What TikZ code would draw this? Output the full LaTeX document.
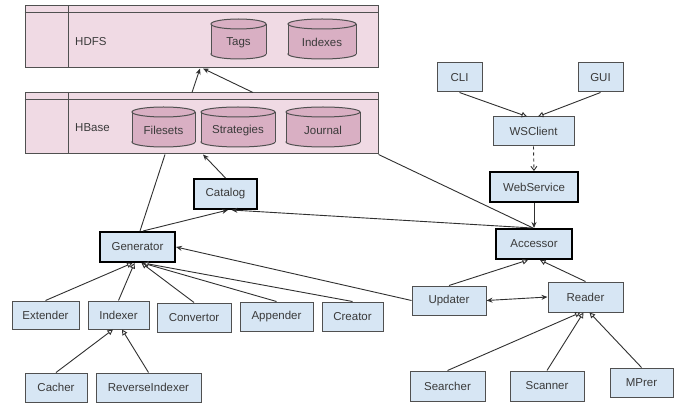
\documentclass[tikz,border=0pt]{standalone}
\usepackage{fontspec}
\setmainfont{Liberation Sans}
\usetikzlibrary{arrows.meta,calc}
\definecolor{boxfill}{HTML}{D7E6F4}
\definecolor{boxline}{HTML}{505050}
\definecolor{pkgfill}{HTML}{F0DAE4}
\definecolor{cylfillc}{HTML}{D9AFC3}
\definecolor{txt}{HTML}{3A3A3A}
\definecolor{edge}{HTML}{303030}
\tikzset{
  box/.style={draw=boxline, fill=boxfill, line width=1pt, inner sep=0pt, text=txt, font=\fontsize{11.5}{13}\selectfont},
  thickbox/.style={box, draw=black, line width=2pt},
  pkg/.style={draw=boxline, fill=pkgfill, line width=1pt, inner sep=0pt},
  cylst/.style={draw=boxline, fill=cylfillc, line width=1pt},
  cylfill/.style={fill=cylfillc},
  cylline/.style={draw=boxline, line width=1pt},
  cyltext/.style={inner sep=0pt, text=txt, font=\fontsize{11.5}{13}\selectfont},
  lbl/.style={inner sep=0pt, anchor=west, text=txt, font=\fontsize{11.5}{13}\selectfont},
  conn/.style={draw=edge, line width=0.9pt},
  assoc/.style={conn, -{Stealth[length=6pt,width=5pt]}},
  biassoc/.style={conn, {Stealth[length=6pt,width=5pt]}-{Stealth[length=6pt,width=5pt]}},
  inherit/.style={conn, -{Triangle[open,length=5.5pt,width=5.5pt,fill=white]}},
  depend/.style={conn, dashed, -{Straight Barb[length=4pt,width=6pt]}}
}
\newcommand\mycyl[6]{%
  \pgfmathsetmacro\cxa{(#2+#4)/2}%
  \pgfmathsetmacro\crx{(#4-#2)/2}%
  \filldraw[cylst] (\cxa,#5-5) ellipse [x radius=\crx, y radius=5];
  \fill[cylfill] (#2,#3+5) rectangle (#4,#5-5);
  \draw[cylline] (#2,#3+5) -- (#2,#5-5) (#4,#3+5) -- (#4,#5-5);
  \filldraw[cylst] (\cxa,#3+5) ellipse [x radius=\crx, y radius=5];
  \node[cyltext] (#1) at (\cxa,{(#3+#5)/2+3.5}) {#6};%
}
\begin{document}
\begin{tikzpicture}[x=1pt,y=-1pt]
\useasboundingbox[fill=white] (0,0) rectangle (674,403);
% packages
\node[pkg, minimum width=353pt, minimum height=62pt] (hdfs) at (201.5,37) {};
\draw[cylline] ([yshift=-7pt]hdfs.north west) -- ([yshift=-7pt]hdfs.north east);
\draw[cylline] ([xshift=44pt]hdfs.north west) -- ([xshift=44pt]hdfs.south west);
\node[lbl] (hdfslbl) at (75,42) {HDFS};
\node[pkg, minimum width=353pt, minimum height=61pt] (hbase) at (201.5,123.5) {};
\draw[cylline] ([yshift=-7pt]hbase.north west) -- ([yshift=-7pt]hbase.north east);
\draw[cylline] ([xshift=44pt]hbase.north west) -- ([xshift=44pt]hbase.south west);
\node[lbl] (hbaselbl) at (75,128) {HBase};
% cylinders
\mycyl{tags}{211}{19}{266}{59}{Tags}
\mycyl{indexes}{288}{19}{356}{59}{Indexes}
\mycyl{filesets}{132}{107}{195}{147}{Filesets}
\mycyl{strategies}{201}{107}{275}{147}{Strategies}
\mycyl{journal}{286}{107}{360}{147}{Journal}
% boxes
\node[thickbox, minimum width=63pt, minimum height=30pt] (catalog) at (225.5,194) {Catalog};
\node[thickbox, minimum width=75pt, minimum height=30pt] (generator) at (137.5,247) {Generator};
\node[thickbox, minimum width=76pt, minimum height=30pt] (accessor) at (534,244) {Accessor};
\node[thickbox, minimum width=88pt, minimum height=30pt] (webservice) at (534,187) {WebService};
\node[box, minimum width=81pt, minimum height=29pt] (wsclient) at (533.5,131.5) {WSClient};
\node[box, minimum width=45pt, minimum height=29pt] (cli) at (459.5,77.5) {CLI};
\node[box, minimum width=45pt, minimum height=29pt] (gui) at (600.5,77.5) {GUI};
\node[box, minimum width=74pt, minimum height=29pt] (updater) at (449,300.5) {Updater};
\node[box, minimum width=75pt, minimum height=30pt] (reader) at (585.5,297) {Reader};
\node[box, minimum width=75pt, minimum height=30pt] (searcher) at (447.5,386) {Searcher};
\node[box, minimum width=74pt, minimum height=30pt] (scanner) at (547,386) {Scanner};
\node[box, minimum width=63pt, minimum height=29pt] (mprer) at (641.5,382.5) {MPrer};
\node[box, minimum width=67pt, minimum height=28pt] (extender) at (45.5,315) {Extender};
\node[box, minimum width=61pt, minimum height=28pt] (indexer) at (118.5,315) {Indexer};
\node[box, minimum width=74pt, minimum height=29pt] (convertor) at (194,317.5) {Convertor};
\node[box, minimum width=73pt, minimum height=29pt] (appender) at (276.5,316.5) {Appender};
\node[box, minimum width=61pt, minimum height=29pt] (creator) at (352.5,316.5) {Creator};
\node[box, minimum width=62pt, minimum height=29pt] (cacher) at (56,387.5) {Cacher};
\node[box, minimum width=105pt, minimum height=29pt] (reverseindexer) at (148.5,387.5) {ReverseIndexer};
% connectors
\draw[assoc] ([xshift=-9.5pt]hbase.north) -- ([xshift=-1.5pt]hdfs.south);
\draw[assoc] ([xshift=51.5pt]hbase.north) -- ([xshift=1.5pt]hdfs.south);
\draw[conn] ([xshift=2.5pt]generator.north) -- ([xshift=-36.5pt]hbase.south);
\draw[assoc] (catalog.north) -- ([xshift=1.5pt]hbase.south);
\draw[assoc] ([xshift=5.5pt]generator.north) -- ([xshift=2.5pt]catalog.south);
\draw[assoc] ([xshift=-2pt]accessor.north) -- ([xshift=6pt]catalog.south);
\draw[conn] (hbase.south east) -- ([xshift=-1pt]accessor.north);
\draw[assoc] (webservice.south) -- (accessor.north);
\draw[depend] (wsclient.south) -- (webservice.north);
\draw[inherit] (cli.south) -- ([xshift=-6.5pt]wsclient.north);
\draw[inherit] (gui.south) -- ([xshift=4.5pt]wsclient.north);
\draw[inherit] (updater.north) -- ([xshift=-6pt]accessor.south);
\draw[inherit] (reader.north) -- ([xshift=6pt]accessor.south);
\draw[biassoc] (updater.east) -- (reader.west);
\draw[assoc] (updater.west) -- (generator.east);
\draw[inherit] (searcher.north) -- ([xshift=-5pt]reader.south);
\draw[inherit] (scanner.north) -- ([xshift=-2pt]reader.south);
\draw[inherit] (mprer.north) -- ([xshift=4pt]reader.south);
\draw[inherit] (extender.north) -- ([xshift=-5pt]generator.south);
\draw[inherit] (indexer.north) -- ([xshift=-3pt]generator.south);
\draw[inherit] (convertor.north) -- ([xshift=4pt]generator.south);
\draw[inherit] (appender.north) -- ([xshift=5pt]generator.south);
\draw[inherit] (creator.north) -- ([xshift=5.5pt]generator.south);
\draw[inherit] (cacher.north) -- ([xshift=-5.5pt]indexer.south);
\draw[inherit] (reverseindexer.north) -- ([xshift=3.5pt]indexer.south);
\end{tikzpicture}
\end{document}
